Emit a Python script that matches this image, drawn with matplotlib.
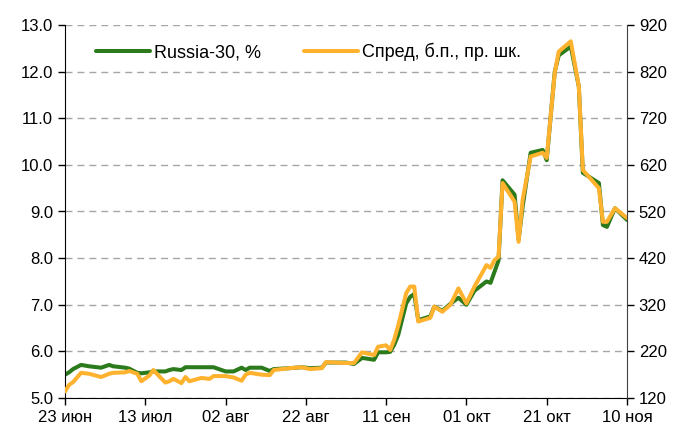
import numpy as np, pandas as pd, matplotlib
matplotlib.use('Agg')
import matplotlib.pyplot as plt

plt.rcParams['font.family'] = ['Liberation Sans', 'DejaVu Sans']

# dates of the readings (2008)
dates = ['06-23', '06-24', '06-25', '06-27', '06-29', '07-02', '07-04', '07-05',
         '07-08', '07-09', '07-11', '07-12', '07-14', '07-15', '07-18', '07-19',
         '07-20', '07-22', '07-23', '07-24', '07-27', '07-29', '07-30', '08-02',
         '08-04', '08-06', '08-07', '08-08', '08-11', '08-13', '08-14', '08-18',
         '08-21', '08-23', '08-26', '08-27', '09-01', '09-03', '09-05', '09-08',
         '09-09', '09-11', '09-12', '09-13', '09-14', '09-16', '09-17', '09-18',
         '09-19', '09-22', '09-23', '09-25', '09-27', '09-29', '10-01', '10-03',
         '10-06', '10-07', '10-08', '10-09', '10-10', '10-13', '10-14', '10-15',
         '10-17', '10-20', '10-21', '10-23', '10-24', '10-27', '10-29', '10-30',
         '11-03', '11-04', '11-05', '11-07', '11-10']

# Russia-30 yield, %
russia30 = [5.50, 5.55, 5.62, 5.71, 5.68, 5.65, 5.71, 5.68,
            5.65, 5.63, 5.54, 5.53, 5.55, 5.57, 5.57, 5.60,
            5.62, 5.60, 5.66, 5.66, 5.66, 5.66, 5.66, 5.57,
            5.57, 5.65, 5.60, 5.65, 5.65, 5.58, 5.62, 5.64,
            5.66, 5.64, 5.65, 5.76, 5.76, 5.73, 5.86, 5.82,
            5.98, 5.98, 5.99, 6.14, 6.35, 7.03, 7.17, 7.23,
            6.67, 6.75, 6.96, 6.87, 7.02, 7.15, 7.00, 7.30,
            7.50, 7.47, 7.71, 7.95, 9.67, 9.36, 8.40, 9.10,
            10.26, 10.32, 10.10, 12.00, 12.35, 12.54, 11.68, 9.83,
            9.61, 8.71, 8.67, 9.07, 8.82]

# spread, bp (right axis)
spread = [134, 148, 154, 174, 172, 165, 172, 174,
          175, 178, 172, 156, 168, 180, 153, 156,
          161, 152, 165, 156, 163, 161, 167, 167,
          164, 157, 170, 174, 170, 169, 180, 184,
          186, 182, 184, 197, 195, 195, 218, 212,
          230, 233, 223, 245, 275, 345, 359, 359,
          284, 292, 316, 305, 320, 355, 323, 359,
          405, 399, 416, 423, 581, 541, 455, 545,
          638, 646, 635, 817, 863, 885, 788, 609,
          570, 498, 498, 527, 506]

tick_labels = ['23 июн', '13 июл', '02 авг', '22 авг', '11 сен', '01 окт', '21 окт', '10 ноя']

x = pd.to_datetime(['2008-' + d for d in dates])
ticks = pd.date_range('2008-06-23', periods=8, freq='20D')

fig = plt.figure(figsize=(6.77, 4.36), dpi=100)
ax = fig.add_axes([65/677, 1 - 398/436, (627 - 65)/677, (398 - 25)/436])
ax2 = ax.twinx()

green = '#2B7A1B'
orange = '#FFB22E'

l1, = ax.plot(x, russia30, color=green, lw=2.9, label='Russia-30, %',
              solid_joinstyle='round', solid_capstyle='round')
l2, = ax2.plot(x, spread, color=orange, lw=2.9, label='Спред, б.п., пр. шк.',
               solid_joinstyle='round', solid_capstyle='round')

ax.set_ylim(5, 13)
ax.set_yticks(np.arange(5, 13.1, 1))
ax.set_yticklabels([f'{v:.1f}' for v in np.arange(5, 13.1, 1)])
ax2.set_ylim(120, 920)
ax2.set_yticks(np.arange(120, 921, 100))

ax.set_xlim(ticks[0], ticks[-1])
ax.set_xticks(ticks)
ax.set_xticklabels(tick_labels)

ax.grid(axis='y', color='#A6A6A6', ls=(0, (5, 3.6)), lw=1)
ax.set_axisbelow(True)

for a in (ax, ax2):
    a.spines['top'].set_visible(False)
    a.tick_params(labelsize=12, length=5, width=1, direction='out')
ax2.spines['left'].set_visible(False)
ax2.spines['bottom'].set_visible(False)
ax.spines['right'].set_visible(False)
ax2.spines['right'].set_color('#404040')

# spread line drawn over the yield line
ax.patch.set_visible(False)
ax2.patch.set_visible(False)
ax2.set_zorder(ax.get_zorder() + 1)

leg = ax2.legend(handles=[l1, l2], loc='center left', bbox_to_anchor=(31/562, 346/373), ncol=2,
                 frameon=False, fontsize=13, handlelength=3.0, handletextpad=0.2,
                 columnspacing=2.4, borderpad=0, borderaxespad=0)

fig.savefig('out.png', dpi=100)
